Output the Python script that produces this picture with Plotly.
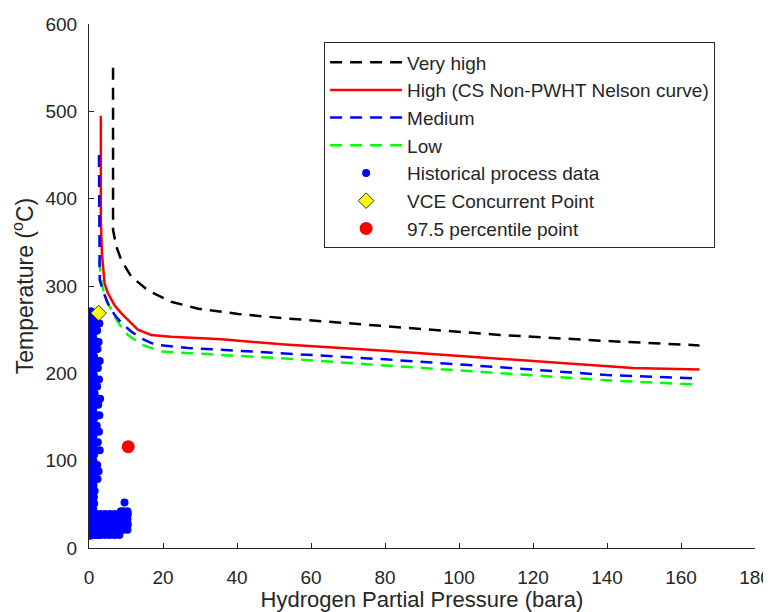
import plotly.graph_objects as go

# ---- curve data (Hydrogen partial pressure [bara], Temperature [degC]) ----
very_high_x = [6.5, 6.5, 7.4, 8.7, 11.4, 15.9, 22.2, 29.5, 40.3, 52.9, 80, 111, 140, 165]
very_high_y = [550, 364, 345, 330, 311, 295, 282, 274, 268, 263, 254, 244, 237, 232]

high_x = [3.2, 3.2, 3.5, 3.8, 4.2, 5.1, 6.9, 8.7, 11.4, 13.2, 16.8, 22.2, 35.8, 52.9, 80, 111, 129, 147, 165]
high_y = [495, 376, 337, 318, 303, 292, 278, 269, 257, 250, 244, 242, 239, 233, 226, 217, 211, 206, 204.5]

medium_x = [2.7, 2.7, 2.9, 3.8, 5.1, 6.9, 8.7, 11.4, 14.1, 17.7, 26.8, 35.8, 52.9, 80, 111, 140, 165]
medium_y = [450, 330, 307, 294, 280, 267, 258, 248, 240, 233, 229, 227, 223, 216, 207, 198, 194]

low_x = [2.7, 2.9, 3.3, 4.2, 6.9, 8.7, 10.5, 14.1, 19.5, 35.8, 52.9, 80, 111, 140, 165]
low_y = [330, 320, 307, 288, 265, 253, 244, 233, 225, 221, 217, 209, 200, 192, 187]

# ---- historical process data ----
hist_x = [
    0.3, 0.5, 0.4, 0.3, 0.5, 0.4, 0.3, 0.5, 0.4, 0.3, 0.5, 0.4, 0.3, 0.5, 0.4, 0.3, 0.5, 0.4, 0.3,
    0.5, 0.4, 0.3, 0.5, 0.4, 0.3, 0.5, 0.4, 0.3, 0.5, 0.4, 0.3, 0.5, 0.4, 0.3, 0.5, 0.4, 0.3, 0.5,
    1.2, 1.4, 1.3, 1.5, 1.2, 1.4, 1.3, 1.5, 1.2, 1.4, 1.3, 1.5, 1.2, 1.4, 1.3, 1.5, 1.2, 1.4, 1.3,
    1.5, 1.2, 1.4, 1.3, 1.5, 1.2, 1.4, 1.3, 1.5, 1.2, 1.4, 1.3, 1.5, 1.2, 1.4, 1.3, 1.5, 1.2, 1.4,
    2.3, 2.6, 2.2, 2.9, 2.4, 2.7, 2.1, 2.8, 2.5, 3.0, 2.2, 2.7, 2.4, 2.9, 2.3, 2.6, 2.2, 2.8, 2.5,
    2.3, 2.6,
    0.4, 1.7, 3.0, 4.3, 5.6, 6.9, 8.2, 9.4, 10.4,
    0.5, 1.8, 3.1, 4.4, 5.7, 7.0, 8.3, 9.5, 10.5,
    0.4, 1.7, 3.0, 4.3, 5.6, 6.9, 8.2, 9.4, 10.4,
    0.5, 1.8, 3.1, 4.4, 5.7, 7.0, 8.3, 9.5, 10.5,
    0.4, 1.7, 3.0, 4.3, 5.6, 6.9, 8.2, 9.4, 10.4,
    8.6, 9.6, 10.4,
    5.0,
]
hist_y = [
    14, 20, 27, 33, 40, 47, 54, 61, 68, 75, 82, 89, 96, 103, 110, 117, 124, 131, 138,
    145, 152, 159, 166, 173, 180, 187, 194, 201, 208, 215, 222, 229, 236, 243, 250, 257, 264, 271,
    17, 24, 30, 37, 44, 51, 58, 65, 72, 79, 86, 93, 100, 107, 114, 121, 128, 135, 142,
    149, 156, 163, 170, 177, 184, 191, 198, 205, 212, 219, 226, 233, 240, 247, 254, 261,
    58, 66, 79, 88, 95, 112, 121, 133, 140, 152, 164, 171, 185, 193, 206, 214, 228, 236, 249,
    257, 268,
    15, 15, 15, 15, 15, 15, 15, 15, 15,
    21, 21, 21, 21, 21, 21, 21, 21, 21,
    27, 27, 27, 27, 27, 27, 27, 27, 27,
    33, 33, 33, 33, 33, 33, 33, 33, 33,
    39, 39, 39, 39, 39, 39, 39, 39, 39,
    42, 42, 42,
    52,
]

vce_x = [2.6]
vce_y = [269]

pct_x = [10.6]
pct_y = [116]

x_ticks = [0, 20, 40, 60, 80, 100, 120, 140, 160, 180]
y_ticks = [0, 100, 200, 300, 400, 500, 600]

FONT = "Liberation Sans, Arial, Helvetica, sans-serif"
INK = "#262626"

fig = go.Figure()

fig.add_trace(go.Scatter(x=hist_x, y=hist_y, mode="markers", name="Historical process data",
                         marker=dict(color="#0000ff", size=8), legendrank=5))
fig.add_trace(go.Scatter(x=very_high_x, y=very_high_y, mode="lines", name="Very high",
                         line=dict(color="black", width=2.5, dash="12px,8px"), legendrank=1))
fig.add_trace(go.Scatter(x=high_x, y=high_y, mode="lines", name="High (CS Non-PWHT Nelson curve)",
                         line=dict(color="#ff0000", width=2.5), legendrank=2))
fig.add_trace(go.Scatter(x=low_x, y=low_y, mode="lines", name="Low",
                         line=dict(color="#00ff00", width=2.5, dash="12px,8px"), legendrank=4))
fig.add_trace(go.Scatter(x=medium_x, y=medium_y, mode="lines", name="Medium",
                         line=dict(color="#0000ff", width=2.5, dash="12px,8px"), legendrank=3))
fig.add_trace(go.Scatter(x=vce_x, y=vce_y, mode="markers", name="VCE Concurrent Point",
                         marker=dict(color="#ffff00", size=12, symbol="diamond",
                                     line=dict(color="#333333", width=1)), legendrank=6))
fig.add_trace(go.Scatter(x=pct_x, y=pct_y, mode="markers", name="97.5 percentile point",
                         marker=dict(color="#ff0000", size=13), legendrank=7))

tick_font = dict(family=FONT, size=19, color=INK)

# The page body has an 8 px default margin, so the figure is sized 8 px smaller
# to fit the 771x612 window exactly.
fig.update_layout(
    width=763, height=604,
    margin=dict(l=81, r=16, t=16, b=64),
    plot_bgcolor="white", paper_bgcolor="white",
    font=dict(family=FONT, color=INK),
    legend=dict(x=0.353, y=0.965, xanchor="left", yanchor="top",
                bgcolor="white", bordercolor=INK, borderwidth=1,
                font=dict(family=FONT, size=19, color=INK), itemwidth=72,
                traceorder="normal"),
    xaxis=dict(range=[0, 180], tickvals=x_ticks, ticks="inside", ticklen=5,
               tickcolor=INK, showline=True, linecolor=INK, linewidth=1,
               showgrid=False, zeroline=False, tickfont=tick_font, automargin=False,
               title=dict(text="Hydrogen Partial Pressure (bara)",
                          font=dict(family=FONT, size=22, color=INK), standoff=4),
               ticklabelstandoff=12),
    yaxis=dict(range=[0, 600], tickvals=y_ticks, ticks="inside", ticklen=5,
               tickcolor=INK, showline=True, linecolor=INK, linewidth=1,
               showgrid=False, zeroline=False, tickfont=tick_font, automargin=False,
               title=dict(text="Temperature (<sup>o</sup>C)",
                          font=dict(family=FONT, size=23, color=INK), standoff=6),
               ticklabelstandoff=7),
)

fig.write_html("out.html")
